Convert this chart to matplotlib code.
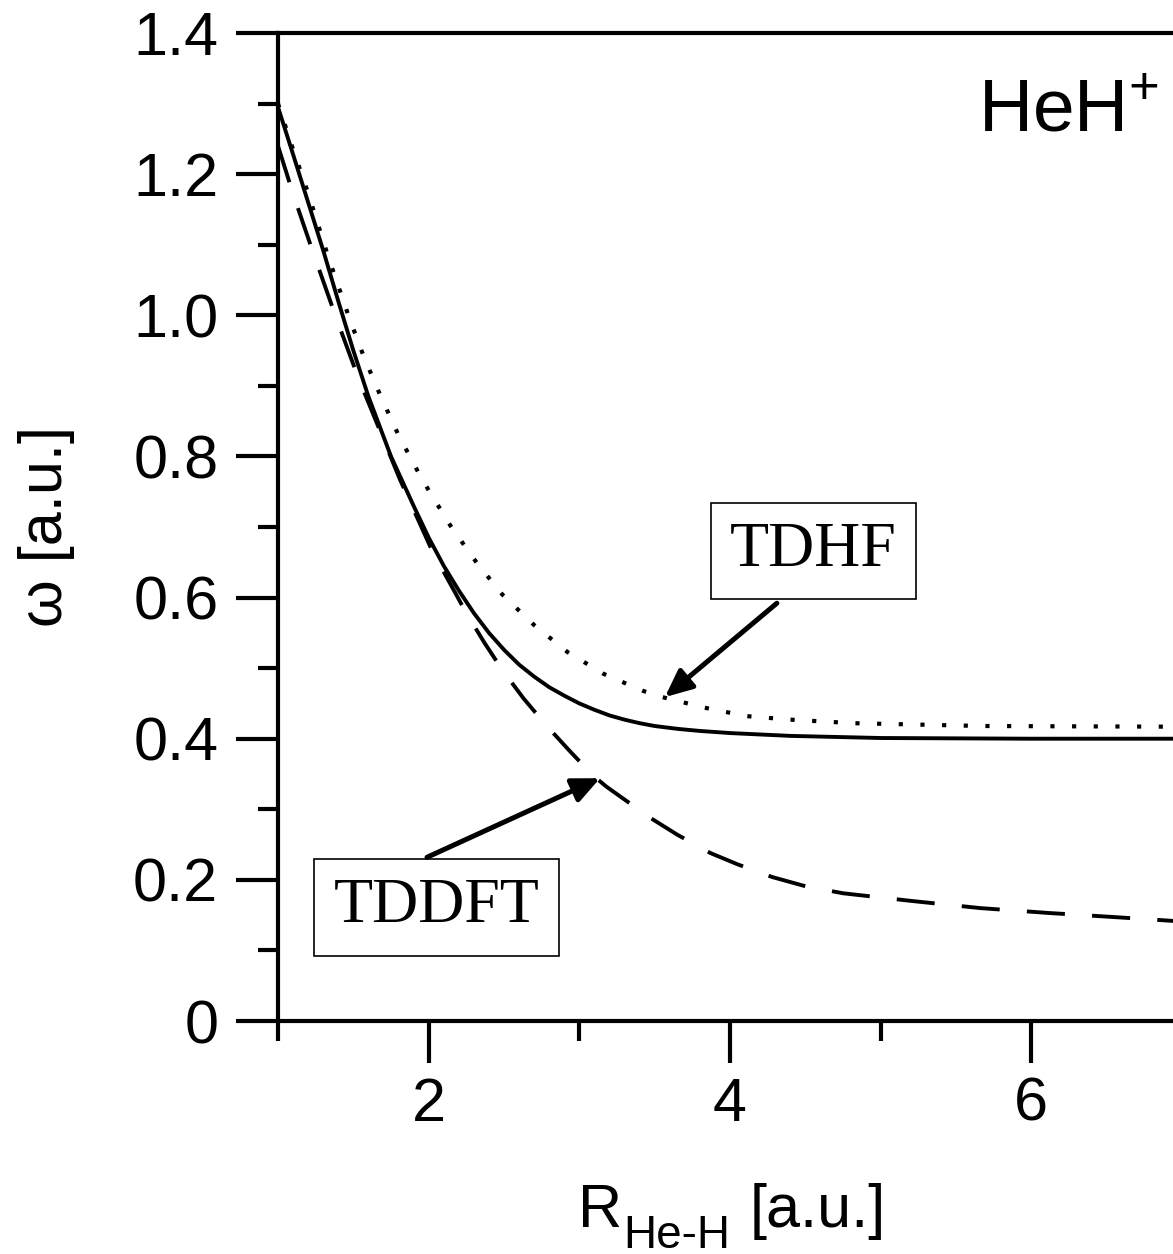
import matplotlib
matplotlib.use('Agg')
import matplotlib.pyplot as plt
from matplotlib.ticker import MultipleLocator, FuncFormatter

# exact excitation energy (solid)
r_exact = [1.0, 1.1, 1.2, 1.3, 1.4, 1.5, 1.6, 1.75, 1.9, 2.0, 2.1, 2.2, 2.3,
           2.4, 2.5, 2.6, 2.7, 2.8, 2.9, 3.0, 3.1, 3.2, 3.3, 3.4, 3.5, 3.65,
           3.8, 4.0, 4.2, 4.4, 4.6, 4.8, 5.0, 6.0, 7.0]
w_exact = [1.295, 1.228, 1.160, 1.092, 1.020, 0.950, 0.885, 0.800, 0.730, 0.685,
           0.645, 0.610, 0.578, 0.550, 0.526, 0.505, 0.488, 0.473, 0.461, 0.450,
           0.441, 0.433, 0.427, 0.422, 0.418, 0.414, 0.411, 0.408, 0.406, 0.404,
           0.403, 0.402, 0.401, 0.400, 0.400]

# TDHF (dotted)
r_tdhf = [1.0, 1.1, 1.2, 1.33, 1.47, 1.57, 1.68, 1.8, 1.93, 2.0, 2.15, 2.32,
          2.49, 2.7, 2.92, 3.16, 3.42, 3.55, 3.83, 4.11, 4.4, 4.82, 5.68, 7.0]
w_tdhf = [1.300, 1.235, 1.173, 1.085, 0.998, 0.941, 0.886, 0.830, 0.778, 0.752,
          0.700, 0.649, 0.604, 0.561, 0.523, 0.492, 0.468, 0.459, 0.444, 0.432,
          0.427, 0.422, 0.418, 0.417]

# TDDFT (dashed)
r_tddft = [1.0, 1.1, 1.22, 1.38, 1.53, 1.71, 1.81, 2.03, 2.15, 2.25, 2.37, 2.49,
           2.63, 2.78, 2.93, 3.09, 3.18, 3.47, 3.65, 3.87, 4.05, 4.28, 4.5, 4.75,
           5.0, 5.21, 5.66, 6.12, 6.57, 7.0]
w_tddft = [1.240, 1.172, 1.097, 1.000, 0.913, 0.819, 0.767, 0.663, 0.617, 0.578,
           0.536, 0.497, 0.457, 0.419, 0.384, 0.348, 0.332, 0.288, 0.264, 0.238,
           0.222, 0.204, 0.191, 0.181, 0.175, 0.170, 0.160, 0.153, 0.147, 0.141]

plt.rcParams['font.family'] = ['Liberation Sans', 'DejaVu Sans']
plt.rcParams['mathtext.fontset'] = 'custom'
plt.rcParams['mathtext.rm'] = 'Liberation Sans'
plt.rcParams['mathtext.it'] = 'Liberation Sans:italic'
plt.rcParams['mathtext.bf'] = 'Liberation Sans:bold'

fig = plt.figure(figsize=(11.73, 12.54), dpi=100)
# right edge of the axes sits just outside the picture (the original is cropped)
ax = fig.add_axes([0.2370, 0.1858, 0.7707, 0.7879])

ax.plot(r_exact, w_exact, color='black', lw=2.8)
ax.plot(r_tdhf, w_tdhf, color='black', lw=3.0, linestyle=(0, (1, 4.2)))
ax.plot(r_tddft, w_tddft, color='black', lw=2.8, linestyle=(0, (9.8, 7.0)))

ax.set_xlim(1, 7)
ax.set_ylim(0, 1.4)
ax.xaxis.set_major_locator(MultipleLocator(2))
ax.xaxis.set_minor_locator(MultipleLocator(1))
ax.yaxis.set_major_locator(MultipleLocator(0.2))
ax.yaxis.set_minor_locator(MultipleLocator(0.1))
ax.yaxis.set_major_formatter(FuncFormatter(lambda v, p: '0' if abs(v) < 1e-9 else '%.1f' % v))

for s in ax.spines.values():
    s.set_linewidth(3)
ax.tick_params(which='both', direction='out', width=3, top=False, right=False)
ax.tick_params(which='major', length=30, labelsize=44)
ax.tick_params(axis='y', which='major', pad=13)
ax.tick_params(axis='x', which='major', pad=10)
ax.tick_params(which='minor', length=14.5)

# x label built from pieces so the subscript drops as deep as in the original
t_r = ax.text(0.332, -0.2085, 'R', transform=ax.transAxes, fontsize=44,
              ha='left', va='baseline')
t_sub = ax.annotate('He-H', xy=(1, 0), xycoords=t_r, xytext=(1, -6),
                    textcoords='offset points', fontsize=33, ha='left', va='baseline')
ax.annotate('[a.u.]', xy=(1, 0), xycoords=(t_sub, t_r), xytext=(14, 0),
            textcoords='offset points', fontsize=44, ha='left', va='bottom')

ax.set_ylabel('ω [a.u.]', fontsize=44, labelpad=42)

ax.text(5.645, 1.26, r'HeH$^{+}$', fontsize=54, ha='left', va='baseline')

box = dict(boxstyle='square,pad=0.3', fc='white', ec='black', lw=1.2)
ax.text(4.553, 0.666, 'TDHF', family='Liberation Serif', fontsize=46,
        ha='center', va='center', bbox=box)
ax.text(2.052, 0.161, 'TDDFT', family='Liberation Serif', fontsize=46,
        ha='center', va='center', bbox=box)

arrow = dict(arrowstyle='-|>,head_length=0.55,head_width=0.25', lw=3.6,
             color='black', mutation_scale=30, shrinkA=0, shrinkB=0)
ax.annotate('', xy=(3.568, 0.459), xytext=(4.311, 0.592), arrowprops=arrow)
ax.annotate('', xy=(3.137, 0.344), xytext=(1.989, 0.232), arrowprops=arrow)

fig.savefig('out.png', dpi=100)
